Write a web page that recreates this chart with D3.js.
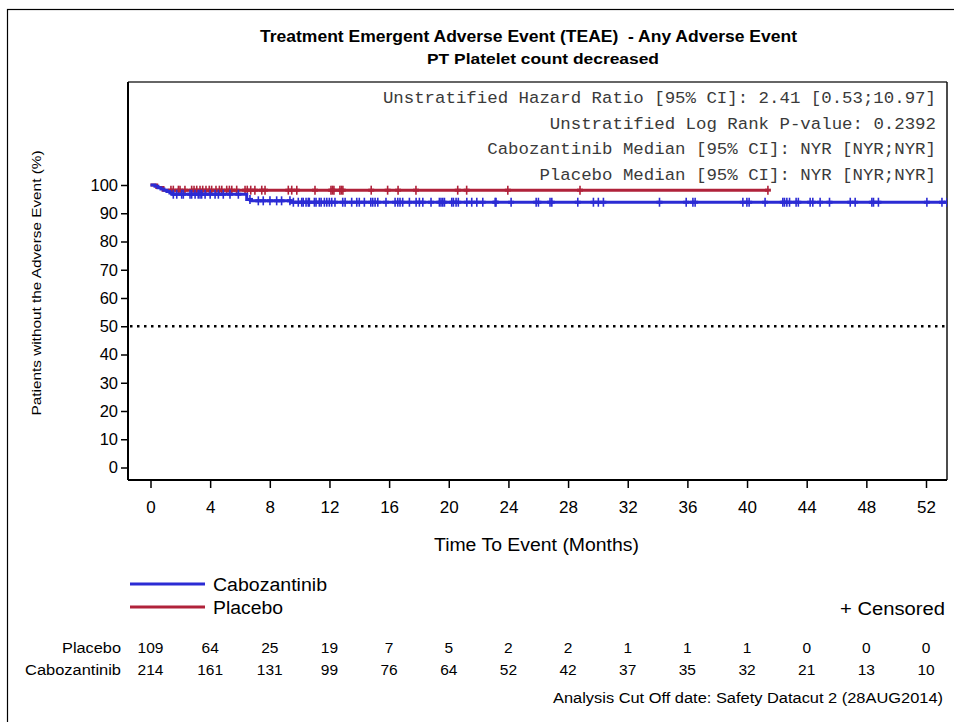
<!DOCTYPE html>
<html><head><meta charset="utf-8">
<script src="https://cdn.jsdelivr.net/npm/d3@7"></script>
<style>body{margin:0;background:#fff}svg{display:block}text{white-space:pre}</style>
</head><body>
<svg id="c" width="954" height="722"></svg>
<script>
// ---------- data ----------
const xTicks = [0,4,8,12,16,20,24,28,32,36,40,44,48,52];
const yTicks = [0,10,20,30,40,50,60,70,80,90,100];
const seriesNames = ["Cabozantinib","Placebo"];
const caboTimes = [0,0.3,0.5,0.7,0.9,1.1,1.3,1.5,6.45,6.7,9.4,53.7];
const caboSurv  = [100,99.53,99.07,98.6,98.13,97.66,97.2,96.73,94.9,94.4,93.9,93.9];
const placeboTimes = [0,0.42,0.84,41.4];
const placeboSurv  = [100,99.08,98.17,98.17];
const placeboCensor = [1.37,1.53,1.87,1.98,2.31,2.76,2.92,3.10,3.32,3.50,3.72,3.94,4.10,4.39,4.62,4.78,5.11,5.29,5.45,5.78,6.34,6.49,6.72,7.0,7.46,7.68,9.24,9.47,9.81,
  11.03,12.1,12.2,12.3,12.7,12.8,12.9,14.8,15.9,16.6,17.8,20.6,21.2,23.96,28.8,41.4];
const caboCensor = [1.53,1.76,2.09,2.20,2.65,2.76,2.99,3.20,3.32,3.43,3.66,4.0,4.33,4.55,4.88,5.33,5.89,6.67,7.23,7.56,8.01,8.46,8.79,9.35,9.58,9.91,10.24,10.58,
  10.14,10.43,10.65,10.99,11.10,11.32,11.44,11.66,11.82,11.99,12.15,12.37,12.89,13.05,13.49,13.83,14.00,14.34,14.77,14.90,15.06,15.24,15.79,16.40,16.58,16.73,16.91,17.36,17.81,18.03,18.26,18.81,19.37,19.48,19.60,19.71,20.20,20.31,20.49,20.64,21.21,21.54,21.88,22.28,23.11,23.17,24.18,25.86,26.01,26.79,26.91,28.65,29.70,30.03,30.37,
  34.13,35.92,36.37,36.52,39.72,39.99,40.14,41.21,42.40,42.51,42.67,42.85,43.29,43.44,44.23,44.41,44.90,45.53,46.92,47.25,48.37,48.48,48.81,52.06,53.07,53.4];
const placeboAtRisk = [109,64,25,19,7,5,2,2,1,1,1,0,0,0];
const caboAtRisk = [214,161,131,99,76,64,52,42,37,35,32,21,13,10];
const statLines = [
  "Unstratified Hazard Ratio [95% CI]: 2.41 [0.53;10.97]",
  "Unstratified Log Rank P-value: 0.2392",
  "Cabozantinib Median [95% CI]: NYR [NYR;NYR]",
  "Placebo Median [95% CI]: NYR [NYR;NYR]"];

// ---------- layout ----------
const svg = d3.select("#c");
const sans = "'Liberation Sans', Arial, sans-serif";
const mono = "'Liberation Mono', 'Courier New', monospace";
const blue = "#2b2bd4", red = "#b0223a";
const frame = {l:128, r:947, t:82, b:480};
const x = d3.scaleLinear().domain([0,52]).range([150.5,926]);
const y = d3.scaleLinear().domain([0,100]).range([467.5,185]);

// outer border
svg.append("rect").attr("x",7.5).attr("y",9.5).attr("width",970).attr("height",730)
  .attr("fill","none").attr("stroke","#000").attr("stroke-width",1.2);

// titles
svg.append("text").attr("x",528.5).attr("y",42).attr("text-anchor","middle")
  .attr("font-family",sans).attr("font-weight","bold").attr("font-size",16)
  .attr("textLength",537).attr("lengthAdjust","spacingAndGlyphs")
  .text("Treatment Emergent Adverse Event (TEAE)  - Any Adverse Event");
svg.append("text").attr("x",543).attr("y",64).attr("text-anchor","middle")
  .attr("font-family",sans).attr("font-weight","bold").attr("font-size",14.5)
  .attr("textLength",232).attr("lengthAdjust","spacingAndGlyphs")
  .text("PT Platelet count decreased");

// clip
svg.append("clipPath").attr("id","pc").append("rect")
  .attr("x",frame.l).attr("y",frame.t).attr("width",frame.r-frame.l).attr("height",frame.b-frame.t);

// frame
svg.append("line").attr("x1",frame.l).attr("x2",frame.r).attr("y1",frame.t).attr("y2",frame.t).attr("stroke","#333").attr("stroke-width",1.5);
svg.append("line").attr("x1",frame.r).attr("x2",frame.r).attr("y1",frame.t).attr("y2",frame.b).attr("stroke","#111").attr("stroke-width",1.5);

// axes
const xAxis = d3.axisBottom(x).tickValues(xTicks).tickSize(8).tickPadding(6);
const gx = svg.append("g").attr("transform",`translate(0,${frame.b})`).call(xAxis);
gx.select(".domain").attr("d",`M${frame.l},0H${frame.r}`).attr("stroke","#000").attr("stroke-width",2);
gx.selectAll(".tick line").attr("stroke","#000").attr("stroke-width",1.5);
gx.selectAll(".tick text").attr("font-family",sans).attr("font-size",17).attr("fill","#000").attr("dy","0.71em").attr("y",21);

const yAxis = d3.axisLeft(y).tickValues(yTicks).tickSize(7).tickPadding(4);
const gy = svg.append("g").attr("transform",`translate(${frame.l},0)`).call(yAxis);
gy.select(".domain").attr("d",`M0,${frame.t}V${frame.b}`).attr("stroke","#000").attr("stroke-width",2);
gy.selectAll(".tick line").attr("stroke","#000").attr("stroke-width",1.5);
gy.selectAll(".tick text").attr("font-family",sans).attr("font-size",16.5).attr("fill","#000").attr("x",-10);

// axis titles
svg.append("text").attr("transform","translate(41,283) rotate(-90)").attr("text-anchor","middle")
  .attr("font-family",sans).attr("font-size",13).attr("textLength",265).attr("lengthAdjust","spacingAndGlyphs")
  .text("Patients without the Adverse Event (%)");
svg.append("text").attr("x",536.5).attr("y",551).attr("text-anchor","middle")
  .attr("font-family",sans).attr("font-size",18).attr("textLength",205).attr("lengthAdjust","spacingAndGlyphs")
  .text("Time To Event (Months)");

// reference line at 50%
svg.append("line").attr("x1",frame.l+2).attr("x2",frame.r).attr("y1",y(50)).attr("y2",y(50))
  .attr("stroke","#000").attr("stroke-width",2.5).attr("stroke-dasharray","2.5,4.5");

// stats text
statLines.forEach((s,i)=>{
  svg.append("text").attr("x",936).attr("y",103+i*25.7).attr("text-anchor","end")
    .attr("font-family",mono).attr("font-size",17.4).attr("fill","#3a3a3a").text(s);
});

// curves
const plot = svg.append("g").attr("clip-path","url(#pc)");
const line = d3.line().x(d=>x(d[0])).y(d=>y(d[1])).curve(d3.curveStepAfter);
function stepVal(ts,ss,t){ let v=ss[0]; for(let i=0;i<ts.length;i++){ if(ts[i]<=t) v=ss[i]; } return v; }
function drawSeries(ts,ss,cens,col){
  plot.append("path").datum(ts.map((t,i)=>[t,ss[i]])).attr("d",line)
    .attr("fill","none").attr("stroke",col).attr("stroke-width",3);
  const g = plot.append("g");
  cens.forEach(t=>{
    const cx = x(t), cy = y(stepVal(ts,ss,t));
    g.append("line").attr("x1",cx).attr("x2",cx).attr("y1",cy-4.5).attr("y2",cy+4.5).attr("stroke",col).attr("stroke-width",1.6);
    g.append("line").attr("x1",cx-3).attr("x2",cx+3).attr("y1",cy).attr("y2",cy).attr("stroke",col).attr("stroke-width",3);
  });
}
drawSeries(placeboTimes,placeboSurv,placeboCensor,red);
drawSeries(caboTimes,caboSurv,caboCensor,blue);

// legend
[[blue,584,seriesNames[0],114],[red,607,seriesNames[1],70]].forEach(([c,yy,n,w])=>{
  svg.append("line").attr("x1",130).attr("x2",205).attr("y1",yy).attr("y2",yy).attr("stroke",c).attr("stroke-width",3);
  svg.append("text").attr("x",213).attr("y",yy+6.5).attr("font-family",sans).attr("font-size",18)
    .attr("textLength",w).attr("lengthAdjust","spacingAndGlyphs").text(n);
});
svg.append("text").attr("x",945).attr("y",614.5).attr("text-anchor","end").attr("font-family",sans).attr("font-size",18)
  .attr("textLength",105).attr("lengthAdjust","spacingAndGlyphs").text("+ Censored");

// at risk
[["Placebo",placeboAtRisk,652.5,59],["Cabozantinib",caboAtRisk,674.5,96]].forEach(([n,arr,yy,w])=>{
  svg.append("text").attr("x",121).attr("y",yy).attr("text-anchor","end").attr("font-family",sans).attr("font-size",15.5)
    .attr("textLength",w).attr("lengthAdjust","spacingAndGlyphs").text(n);
  arr.forEach((v,i)=>{
    svg.append("text").attr("x",x(xTicks[i])).attr("y",yy).attr("text-anchor","middle").attr("font-family",sans).attr("font-size",15.5).text(v);
  });
});
svg.append("text").attr("x",943).attr("y",703).attr("text-anchor","end").attr("font-family",sans).attr("font-size",15.5)
  .attr("textLength",390).attr("lengthAdjust","spacingAndGlyphs")
  .text("Analysis Cut Off date: Safety Datacut 2 (28AUG2014)");
</script>
</body></html>
